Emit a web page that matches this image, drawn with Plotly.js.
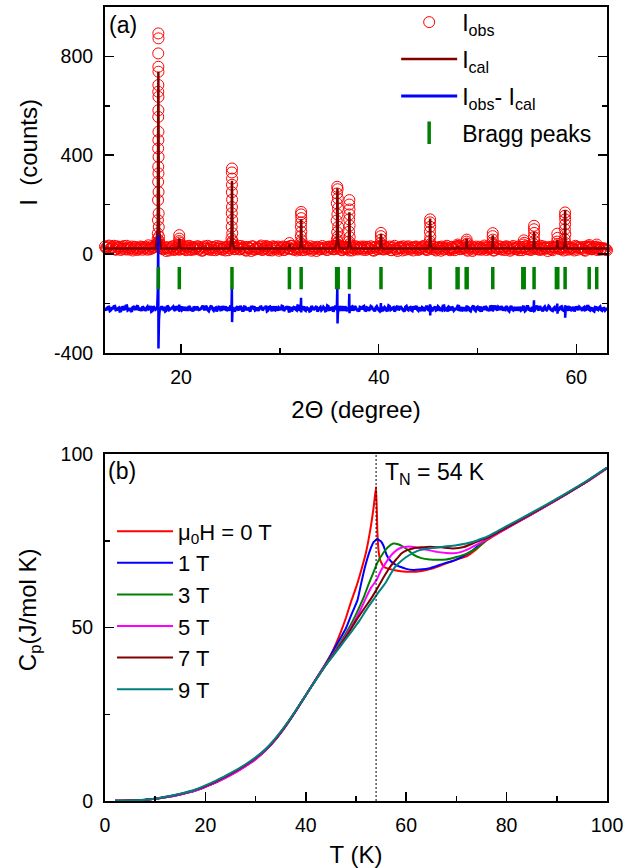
<!DOCTYPE html>
<html>
<head>
<meta charset="utf-8">
<script src="https://cdn.plot.ly/plotly-3.0.1.min.js"></script>
<style>html,body{margin:0;padding:0;background:#fff;}#chart{width:638px;height:868px;}</style>
</head>
<body>
<div id="chart"></div>
<script>
// ---------- Panel (a): powder XRD ----------
// observed background counts on the measurement grid (start 12.3 deg, step 0.1 deg);
// given as two half-grids: even points (12.3, 12.5, ...) and odd points (12.4, 12.6, ...)
const OBS_START = 12.3;
const OBS_STEP = 0.1;
const obsEven = [
30,26,34,22,28,19,31,24,16,27,
21,33,18,25,14,29,23,20,30,17,
26,22,35,19,24,28,33,30,27,21,
25,12,27,21,30,16,25,28,19,23,
32,15,26,20,29,18,24,31,22,13,
27,20,33,17,24,28,15,22,30,19,
26,14,29,23,31,27,20,25,18,32,
21,16,28,24,12,30,19,26,22,34,
18,25,29,15,23,31,20,27,13,24,
30,17,26,22,33,19,28,14,25,21,
29,16,27,23,31,18,24,12,26,20,
32,22,17,28,25,30,19,26,21,33,
15,24,29,20,27,14,23,31,18,25,
22,30,16,28,21,26,13,29,19,24,
33,18,25,22,30,15,27,20,12,26,
23,31,17,28,21,25,14,29,24,19,
27,32,20,16,26,22,30,18,24,28,
13,25,21,33,19,27,23,15,29,26,
20,31,24,17,28,22,12,26,30,18,
25,21,34,16,27,23,29,14,24,20,
28,17,26,31,22,13,27,24,19,30,
23,15,28,21,32,18,25,27,20,29,
16,24,30,22,12,26,19,28,23,31,
20,27,14,25,29,18,24,21,33,17,
26,22,28,13,25,30,19,23,27,16,
24,20,18,22,15];
const obsOdd = [
24,31,20,27,33,17,25,29,21,32,
18,26,23,30,20,27,16,24,28,22,
29,17,25,31,26,35,40,32,24,19,
28,22,14,26,31,19,24,17,29,23,
20,27,33,16,25,21,30,18,26,14,
31,23,19,28,16,25,32,21,27,17,
24,30,15,22,29,19,26,33,20,25,
28,13,27,21,31,17,24,20,29,16,
22,32,18,26,14,28,23,30,19,27,
16,25,29,21,33,17,24,20,28,15,
26,31,19,24,13,28,22,29,18,25,
21,27,16,30,23,19,33,24,28,17,
29,20,25,14,26,32,18,27,22,30,
17,24,29,21,31,15,26,20,28,23,
19,30,22,27,16,25,33,18,24,29,
14,26,21,31,18,27,23,30,16,25,
22,29,17,26,32,20,28,14,25,21,
30,18,27,23,15,29,21,26,33,19,
25,22,28,13,26,31,18,24,20,29,
17,27,23,30,19,25,14,28,22,31,
20,26,16,29,24,18,32,21,27,15,
28,23,31,19,25,16,29,22,26,20,
33,18,24,27,21,29,15,26,30,23,
19,25,31,17,28,22,26,14,29,24,
27,21,16,30,23,26,19,28,22,25,17,24,20,18];

// observed points on the Bragg reflections
const obsPeakX = [
17.70,17.71,17.69,17.70,17.71,17.70,17.69,17.71,17.70,17.69,17.71,17.70,17.68,17.72,17.69,17.71,17.68,17.72,17.67,17.73,17.66,17.74,17.64,17.76,17.62,17.78,17.60,17.80,
19.81,19.82,19.80,19.84,19.78,19.86,
25.15,25.14,25.16,25.15,25.14,25.16,25.15,25.13,25.17,25.12,25.18,25.10,25.20,25.08,25.22,
30.96,
32.15,32.14,32.16,32.15,32.13,32.17,32.12,32.18,32.10,32.20,
35.80,35.84,35.78,35.86,35.76,35.88,35.82,35.74,35.90,35.80,35.85,35.76,35.88,35.72,35.92,35.70,
37.03,37.02,37.04,37.03,37.01,37.05,37.00,37.06,36.98,37.08,
40.23,40.22,40.24,40.20,40.26,
45.20,45.19,45.21,45.18,45.22,45.16,45.24,
47.98,48.02,
48.90,48.88,48.92,48.86,
51.54,51.53,51.55,51.51,51.57,
54.68,54.72,54.64,
55.72,55.71,55.73,55.70,55.74,55.68,
58.07,58.09,58.05,58.11,
58.86,58.85,58.87,58.86,58.84,58.88,58.82,58.90,
61.30,61.27,
62.06,62.03,
63.10];
const obsPeakY = [
893,873,812,758,738,684,657,636,582,555,495,461,427,393,353,326,292,251,218,164,137,109,83,70,60,52,45,40,
76,62,52,46,38,36,
346,330,305,280,250,220,190,165,138,110,84,62,52,42,38,
44,
170,160,145,128,110,90,72,56,44,38,
272,262,245,225,205,185,160,135,110,88,70,58,48,42,36,32,
218,200,180,160,140,115,90,68,50,40,
85,72,58,44,36,
140,128,110,90,70,52,40,
38,32,
58,50,42,36,
84,72,58,46,38,
55,45,38,
114,100,85,68,52,40,
82,65,50,40,
168,155,140,120,100,80,60,44,
36,30,
38,30,
15];

// calculated profile
const calX = [12.3,
17.45,17.64,17.70,17.76,17.95,
19.62,19.77,19.82,19.87,20.02,
24.95,25.09,25.15,25.21,25.35,
30.80,30.92,30.96,31.00,31.12,
31.98,32.10,32.15,32.20,32.32,
35.62,35.76,35.82,35.88,36.02,
36.85,36.98,37.03,37.08,37.21,
40.06,40.18,40.23,40.28,40.40,
45.02,45.15,45.20,45.25,45.38,
47.85,47.96,48.00,48.04,48.15,
48.74,48.86,48.90,48.94,49.06,
51.38,51.50,51.54,51.58,51.70,
54.55,54.66,54.70,54.74,54.85,
55.56,55.68,55.72,55.76,55.88,
57.93,58.04,58.08,58.12,58.23,
58.70,58.82,58.86,58.90,59.02,
61.18,61.27,61.30,61.33,61.42,
61.95,62.03,62.06,62.09,62.18,
63.1];
const calY = [22,
22,108,738,108,22,
22,27,63,27,22,
22,55,296,55,22,
22,24,40,24,22,
22,36,140,36,22,
22,51,266,51,22,
22,40,169,40,22,
22,29,82,29,22,
22,36,143,36,22,
22,23,30,23,22,
22,27,62,27,22,
22,28,76,28,22,
22,23,30,23,22,
22,30,89,30,22,
22,26,56,26,22,
22,41,177,41,22,
22,22,26,22,22,
22,22,24,22,22,
22];

// difference curve on the same grid (even / odd half-grids), plus spikes at reflections
const diffEven = [
-218,-224,-215,-227,-220,-212,-226,-219,-231,-216,
-223,-210,-225,-229,-217,-221,-214,-228,-222,-213,
-226,-219,-224,-211,-230,-218,-222,-220,-225,-216,
-221,-229,-214,-223,-218,-226,-212,-224,-220,-227,
-215,-222,-231,-217,-224,-213,-228,-219,-225,-216,
-222,-210,-227,-220,-214,-229,-218,-223,-216,-226,
-219,-212,-225,-230,-217,-221,-227,-213,-224,-218,
-229,-215,-222,-226,-211,-220,-228,-217,-223,-214,
-225,-219,-231,-216,-222,-212,-227,-221,-218,-226,
-213,-224,-220,-229,-215,-222,-217,-228,-211,-225,
-219,-226,-214,-223,-230,-218,-221,-212,-227,-216,
-224,-220,-229,-213,-225,-218,-222,-215,-228,-219,
-211,-226,-221,-217,-230,-214,-223,-220,-227,-216,
-224,-212,-229,-219,-222,-215,-226,-218,-221,-231,
-214,-225,-220,-228,-213,-223,-217,-226,-211,-222,
-219,-229,-215,-224,-218,-227,-212,-221,-225,-216,
-230,-220,-223,-214,-228,-219,-222,-213,-226,-217,
-224,-211,-227,-221,-215,-229,-218,-225,-220,-212,
-223,-228,-216,-222,-219,-231,-214,-226,-218,-224,
-213,-221,-227,-217,-225,-210,-229,-220,-223,-215,
-226,-219,-222,-212,-228,-218,-224,-216,-230,-221,
-214,-225,-220,-227,-213,-223,-219,-229,-216,-222,
-211,-226,-218,-224,-221,-215,-228,-220,-225,-217,
-223,-213,-229,-219,-222,-216,-227,-214,-224,-220,
-215,-222,-219,-227,-212,-225,-220,-229,-216,-223,
-218,-226,-221,-228,-223];
const diffOdd = [
-225,-216,-230,-220,-213,-227,-222,-232,-217,-224,
-211,-228,-219,-234,-215,-226,-209,-223,-231,-218,
-227,-214,-222,-233,-212,-225,-219,-229,-216,-224,
-232,-210,-226,-221,-214,-230,-218,-227,-213,-223,
-229,-216,-211,-225,-233,-219,-214,-226,-222,-210,
-228,-217,-231,-213,-224,-220,-233,-215,-227,-212,
-226,-230,-216,-209,-223,-232,-218,-225,-211,-229,
-214,-227,-221,-233,-217,-212,-226,-230,-215,-224,
-219,-210,-228,-214,-232,-225,-213,-229,-222,-211,
-231,-218,-212,-226,-233,-216,-225,-210,-230,-219,
-213,-229,-224,-232,-211,-227,-217,-233,-220,-228,
-215,-231,-210,-226,-219,-234,-214,-225,-212,-230,
-226,-213,-232,-221,-216,-229,-211,-227,-233,-218,
-214,-228,-217,-230,-212,-224,-232,-213,-227,-220,
-231,-216,-229,-210,-226,-219,-233,-215,-228,-212,
-224,-233,-212,-227,-216,-230,-221,-210,-229,-225,
-217,-231,-214,-226,-211,-232,-219,-228,-213,-230,
-227,-210,-225,-233,-218,-214,-229,-222,-211,-231,
-216,-226,-232,-213,-228,-220,-210,-230,-215,-227,
-233,-218,-212,-226,-231,-214,-224,-209,-228,-219,
-212,-229,-225,-217,-232,-211,-227,-221,-215,-230,
-228,-216,-231,-213,-224,-233,-218,-226,-210,-229,
-220,-232,-214,-227,-211,-225,-230,-216,-222,-228,
-215,-226,-231,-212,-229,-218,-224,-233,-213,-227,
-219,-230,-216,-225,-212,-228,-221,-232,-217,-226,-214,-229,-220,-223];
const diffSpikeX = [
17.58,17.64,17.69,17.71,17.76,17.84,null,
19.78,19.81,19.83,19.87,null,
25.10,25.14,25.16,25.21,null,
30.92,30.95,30.97,31.01,null,
32.10,32.14,32.16,32.21,null,
35.76,35.81,35.83,35.89,null,
36.98,37.02,37.04,37.09,null,
40.18,40.22,40.24,40.29,null,
45.15,45.19,45.21,45.26,null,
47.96,47.99,48.01,48.05,null,
48.86,48.89,48.91,48.95,null,
51.50,51.53,51.55,51.59,null,
54.66,54.69,54.71,54.75,null,
55.67,55.71,55.73,55.78,null,
58.03,58.07,58.09,58.14,null,
58.81,58.85,58.87,58.92,null,
61.26,61.29,61.31,61.35,null,
62.02,62.05,62.07,62.11];
const diffSpikeY = [
-221,-150,76,-383,-268,-221,null,
-221,-205,-234,-221,null,
-221,-134,-276,-221,null,
-221,-212,-238,-221,null,
-221,-178,-237,-221,null,
-221,-131,-282,-221,null,
-221,-161,-240,-221,null,
-221,-199,-235,-221,null,
-221,-204,-249,-221,null,
-221,-210,-230,-221,null,
-221,-208,-231,-221,null,
-221,-207,-233,-221,null,
-221,-209,-230,-221,null,
-221,-188,-235,-221,null,
-221,-201,-242,-221,null,
-221,-208,-258,-221,null,
-221,-212,-230,-221,null,
-221,-213,-229,-221];

// Bragg reflection positions
const braggX = [17.70,19.82,25.15,30.96,32.15,35.74,35.90,37.03,40.23,45.20,47.93,48.03,48.85,48.95,51.54,54.58,54.72,55.72,57.98,58.12,58.86,61.30,62.06];
const braggY = [-98,-98,-98,-98,-98,-98,-98,-98,-98,-98,-98,-98,-98,-98,-98,-98,-98,-98,-98,-98,-98,-98,-98];

const xrdYTickVals = [-400,0,400,800];
const xrdYTickText = ['-400','0','400','800'];

// ---------- Panel (b): heat capacity ----------
const TN = 54;
const fieldLabels = ['μ<sub>0</sub>H = 0 T','1 T','3 T','5 T','7 T','9 T'];

const T_0T = [2,5,8,10,12,15,18,20,22,25,28,30,32,34,36,38,40,42,44,45,46,47,48,49,50,51,52,53,53.5,54,54.25,54.5,54.8,55.5,56.1,58,60,62,64,65.4,68,70,72,74,76,80,84,88,92,96,100];
const Cp_0T = [0.05,0.12,0.35,0.65,1.1,1.9,3.0,4.1,5.3,7.5,10.1,12.1,14.6,17.8,21.6,25.9,30.5,35.1,39.7,42.2,45.3,48.8,52.8,57.4,61.5,66.3,71.7,79.5,84.5,90.6,78,72,69.5,67.5,67.1,66.4,66.1,66.1,66.6,67.1,68.5,69.6,70.5,72.6,75.1,78.6,81.8,85.1,88.5,92.0,95.9];

const T_1T = [2,5,8,10,12,15,18,20,22,25,28,30,32,34,36,38,40,42,44,45,46,47,48,49,50.3,51,51.8,52.8,53.5,54.2,55,55.5,56.1,57,58,58.8,60,61.4,62.7,64.7,66,68,69.4,71,72.1,73.4,75,76,80,84,88,92,96,100];
const Cp_1T = [0.05,0.12,0.35,0.65,1.1,1.9,3.0,4.1,5.3,7.5,10.1,12.1,14.6,17.8,21.6,25.9,30.5,35.1,39.6,42.0,44.7,47.2,49.8,53.4,57.9,62.5,67.5,72.3,74.6,75.5,74.8,73.5,70.9,69.0,68.0,67.5,66.9,66.6,66.7,67.1,67.7,68.7,69.2,70.3,71.2,72.4,74.3,75.5,78.7,81.9,85.2,88.6,92.1,96.0];

const T_3T = [2,5,8,10,12,15,18,20,22,25,28,30,32,34,36,38,40,42,44,45,46,47,48.5,50,51.5,52.5,53.4,54.3,55.4,56.4,57.4,58.4,59.5,60.5,61.4,63,64.7,66,68,70,72.1,74,76,80,84,88,92,96,100];
const Cp_3T = [0.05,0.12,0.35,0.65,1.1,2.0,3.1,4.2,5.4,7.6,10.2,12.2,14.7,17.9,21.7,26.0,30.5,35.0,39.4,41.5,43.7,46.0,49.6,53.8,58.6,62.4,65.6,68.8,71.4,73.2,74.2,74.0,73.2,72.2,71.0,70.0,69.6,69.5,69.6,70.3,71.3,72.8,75.3,78.7,81.9,85.2,88.6,92.1,96.0];

const T_5T = [2,5,8,10,12,15,18,20,22,25,28,30,32,34,36,38,40,42,44,45,46,47,48,49.5,51,52.1,53,54.1,55,56.1,57,58.1,59,60.1,61.5,62.7,64.5,66.1,68,69.4,71,72.7,74,76,80,84,88,92,96,100];
const Cp_5T = [0.05,0.12,0.35,0.65,1.1,1.9,3.0,4.1,5.3,7.4,10.0,12.0,14.6,17.8,21.7,26.0,30.5,35.0,39.3,41.3,43.4,45.5,47.7,51.2,55.4,58.9,61.5,63.7,66.5,69.0,70.8,72.3,73.0,73.3,73.2,72.8,72.3,71.8,71.5,71.4,71.8,72.8,73.8,75.4,78.6,81.8,85.1,88.5,92.0,95.9];

const T_7T = [2,5,8,10,12,15,18,20,22,25,28,30,32,34,36,38,40,42,44,45,46,47,48,49,50.1,51.5,52.8,53.8,54.8,55.8,56.8,58,59.1,60.2,61.4,63,64.7,67,69.4,71.5,73.4,75,76,80,84,88,92,96,100];
const Cp_7T = [0.05,0.12,0.36,0.66,1.15,2.0,3.2,4.3,5.6,7.8,10.4,12.4,14.9,18.0,21.8,26.0,30.5,34.9,39.2,41.2,43.2,45.2,47.3,49.6,52.2,55.2,57.9,60.2,62.7,65.2,67.5,69.6,71.4,72.3,72.8,73.1,73.3,73.1,72.8,73.2,74.3,75.3,75.7,78.8,82.0,85.3,88.6,92.1,96.0];

const T_9T = [2,5,8,10,12,15,18,20,22,25,28,30,32,34,36,38,40,42,44,45,46,47,48,49,50,50.8,52,53.4,54.6,55.8,56.8,57.8,59,60.1,61.4,62.7,65,67.4,70,73.4,75,76,80,84,88,92,96,100];
const Cp_9T = [0.05,0.13,0.37,0.68,1.2,2.1,3.3,4.5,5.8,8.0,10.6,12.6,15.0,18.2,21.9,26.1,30.5,34.9,39.2,41.0,42.9,44.8,46.7,48.6,50.6,52.2,55.0,57.9,60.4,62.7,65.2,67.5,69.2,70.4,71.5,72.3,72.9,73.3,73.7,74.7,75.6,76.1,79.2,82.3,85.5,88.8,92.3,96.1];

const cpT = [T_0T,T_1T,T_3T,T_5T,T_7T,T_9T];
const cpV = [Cp_0T,Cp_1T,Cp_3T,Cp_5T,Cp_7T,Cp_9T];
const cpColors = ['#FF0000','#0000FF','#008000','#FF00FF','#800000','#008080'];

// merge the two half-grids into one sequence on the 0.1 deg grid
function mergeHalfGrids(even, odd) {
  const out = [];
  for (let i = 0; i < even.length; i++) {
    out.push(even[i]);
    if (i < odd.length) out.push(odd[i]);
  }
  return out;
}
const obsGridY = mergeHalfGrids(obsEven, obsOdd);
const diffGridY = mergeHalfGrids(diffEven, diffOdd);

// ---------- traces ----------
const obsMarker = {symbol:'circle-open', size:11, color:'#FF0000', line:{width:1, color:'#FF0000'}};
const traces = [];
traces.push({type:'scatter', mode:'markers', x0:OBS_START, dx:OBS_STEP, y:obsGridY,
  xaxis:'x', yaxis:'y', name:'I<sub>obs</sub>', legend:'legend', legendgroup:'a1',
  cliponaxis:false, marker:obsMarker});
traces.push({type:'scatter', mode:'markers', x:obsPeakX, y:obsPeakY,
  xaxis:'x', yaxis:'y', showlegend:false, legendgroup:'a1', cliponaxis:false, marker:obsMarker});
traces.push({type:'scatter', mode:'lines', x:calX, y:calY,
  xaxis:'x', yaxis:'y', name:'I<sub>cal</sub>', legend:'legend', legendgroup:'a2',
  line:{color:'#800000', width:2.5}});
traces.push({type:'scatter', mode:'lines', x0:OBS_START, dx:OBS_STEP, y:diffGridY,
  xaxis:'x', yaxis:'y', name:'I<sub>obs</sub>- I<sub>cal</sub>', legend:'legend', legendgroup:'a3',
  line:{color:'#0000FF', width:3, simplify:false}});
traces.push({type:'scatter', mode:'lines', x:diffSpikeX, y:diffSpikeY, connectgaps:false,
  xaxis:'x', yaxis:'y', showlegend:false, legendgroup:'a3',
  line:{color:'#0000FF', width:2.5, simplify:false}});
traces.push({type:'scatter', mode:'markers', x:braggX, y:braggY,
  xaxis:'x', yaxis:'y', name:'Bragg peaks', legend:'legend', legendgroup:'a4',
  marker:{symbol:'line-ns', size:16, color:'#008000', line:{width:3.5, color:'#008000'}}});

for (let i = 0; i < cpT.length; i++) {
  traces.push({type:'scatter', mode:'lines', x:cpT[i], y:cpV[i],
    xaxis:'x2', yaxis:'y2', name:fieldLabels[i], legend:'legend2', legendgroup:'b'+i,
    line:{color:cpColors[i], width:2, shape:'spline', smoothing:0.4}});
}

// ---------- layout ----------
const FONT = '"Liberation Sans", Arial, Helvetica, sans-serif';
const axisCommon = {
  showgrid:false, zeroline:false, showline:true, linecolor:'#000', linewidth:2,
  ticks:'inside', ticklen:9, tickwidth:1.5, tickcolor:'#000',
  tickfont:{family:FONT, size:19.5, color:'#000'}, ticklabelstandoff:6
};

const layout = {
  width:638, height:868,
  margin:{l:105, r:31, t:7, b:67, pad:0, autoexpand:false},
  paper_bgcolor:'#fff', plot_bgcolor:'#fff',
  font:{family:FONT, color:'#000'},
  showlegend:true,
  xaxis: Object.assign({}, axisCommon, {
    domain:[0,1], anchor:'y', range:[12.3,63.1], tickmode:'linear', tick0:0, dtick:20, mirror:true,
    minor:{ticks:'inside', ticklen:5, tickwidth:1.5, tickcolor:'#000', tick0:0, dtick:10},
    title:{text:'2Θ (degree)', font:{family:FONT, size:24}, standoff:14}
  }),
  yaxis: Object.assign({}, axisCommon, {
    domain:[0.5646,1], anchor:'x', range:[-400,1000], tickmode:'array',
    tickvals:xrdYTickVals, ticktext:xrdYTickText, mirror:'ticks',
    minor:{ticks:'inside', ticklen:5, tickwidth:1.5, tickcolor:'#000', tickmode:'array', tickvals:[-200,200,600]}
  }),
  xaxis2: Object.assign({}, axisCommon, {
    domain:[0,1], anchor:'y2', range:[0,100], tickmode:'linear', tick0:0, dtick:20, mirror:true,
    minor:{ticks:'inside', ticklen:5, tickwidth:1.5, tickcolor:'#000', tick0:0, dtick:10},
    title:{text:'T (K)', font:{family:FONT, size:24}, standoff:14}
  }),
  yaxis2: Object.assign({}, axisCommon, {
    domain:[0,0.437], anchor:'x2', range:[0,100], tickmode:'linear', tick0:0, dtick:50, mirror:true,
    minor:{ticks:'inside', ticklen:5, tickwidth:1.5, tickcolor:'#000', tick0:0, dtick:25}
  }),
  legend:{x:0.58, y:1.008, xanchor:'left', yanchor:'top', bgcolor:'rgba(0,0,0,0)', borderwidth:0,
    font:{family:FONT, size:23, color:'#000'}, itemwidth:56, tracegroupgap:4, traceorder:'grouped'},
  legend2:{x:0.014, y:0.366, xanchor:'left', yanchor:'top', bgcolor:'rgba(0,0,0,0)', borderwidth:0,
    font:{family:FONT, size:22, color:'#000'}, itemwidth:56, tracegroupgap:0, traceorder:'grouped'},
  shapes:[{type:'line', xref:'x2', yref:'y2', x0:TN, x1:TN, y0:0, y1:100,
    line:{color:'#000', width:1, dash:'2px,2px'}}],
  annotations:[
    {text:'(a)', xref:'paper', yref:'paper', x:0.004, y:0.977, xanchor:'left', yanchor:'middle', showarrow:false, font:{family:FONT, size:23}},
    {text:'(b)', xref:'paper', yref:'paper', x:0.002, y:0.4156, xanchor:'left', yanchor:'middle', showarrow:false, font:{family:FONT, size:23}},
    {text:'T<sub>N</sub> = '+TN+' K', xref:'x2', yref:'y2', x:55.4, y:94.5, xanchor:'left', yanchor:'middle', showarrow:false, font:{family:FONT, size:23}},
    {text:'I  (counts)', xref:'paper', yref:'paper', x:-0.153, y:0.8167, xanchor:'center', yanchor:'middle', textangle:-90, showarrow:false, font:{family:FONT, size:24}},
    {text:'C<sub>p</sub>(J/mol K)', xref:'paper', yref:'paper', x:-0.15, y:0.2412, xanchor:'center', yanchor:'middle', textangle:-90, showarrow:false, font:{family:FONT, size:24}}
  ]
};

Plotly.newPlot('chart', traces, layout, {displayModeBar:false, staticPlot:true});
</script>
</body>
</html>
